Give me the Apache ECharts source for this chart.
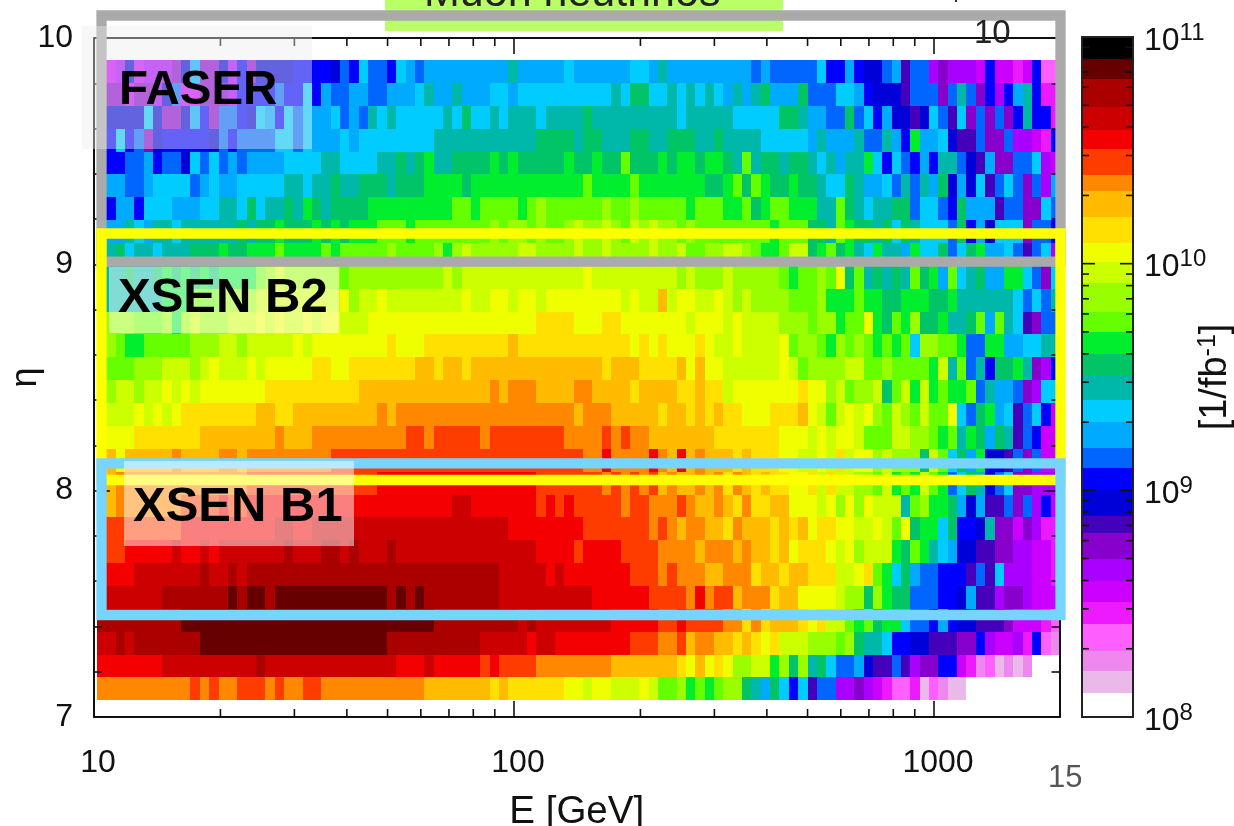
<!DOCTYPE html>
<html><head><meta charset="utf-8">
<style>html,body{margin:0;padding:0;background:#fff}#c{width:1234px;height:826px}</style>
<script src="https://cdn.jsdelivr.net/npm/echarts@6/dist/echarts.min.js"></script>
</head><body><div id="c"></div>
<script>
// Colour bands of the z scale, bottom to top
const bandColors=['#ffffff','#ebb9e9','#ee88ee','#ff5fff','#ee1aff','#cc00ff','#aa00ff','#8800cc','#4400bb','#0000d8','#0000ff','#0066ff','#00aaff','#00ccff','#00b8aa','#00c466','#00ee2e','#66ff00','#99ff00','#ccff00','#f0ff00','#ffe000','#ffbb00','#ff8800','#ff3c00','#f50000','#cc0000','#aa0000','#660000','#000000'];
const bandEdges=[1e8,1.27e8,1.6e8,1.95e8,2.57e8,3.2e8,4e8,5e8,6.5e8,7.7e8,1e9,1.25e9,1.54e9,2e9,2.5e9,3.2e9,4e9,5e9,6.1e9,8.2e9,1.02e10,1.23e10,1.6e10,2.1e10,2.46e10,3.2e10,3.9e10,4.9e10,6.5e10,8e10,1e11];
const xMinorTicks=[20,30,40,50,60,70,80,90,200,300,400,500,600,700,800,900];
const cbarMinorTicks=[2e8,3e8,4e8,5e8,6e8,7e8,8e8,9e8,2e9,3e9,4e9,5e9,6e9,7e9,8e9,9e9,2e10,3e10,4e10,5e10,6e10,7e10,8e10,9e10];
const cbarMajorTicks=[1e9,1e10];
const firstBinLogE=1.00714, binLogWidth=0.02226, firstRowEta=7.074, rowEtaHeight=0.101;
// Each eta row: pairs of band index, number of consecutive energy bins
const etaRow00=[23,10,24,1,23,1,24,1,23,2,24,3,23,1,24,1,23,2,24,2,23,11,22,7,21,1,22,1,21,6,20,2,19,1,20,2,19,3,20,1,19,1,17,2,18,1,16,1,17,1,16,1,17,1,18,2,15,1,14,1,12,1,15,1,13,1,10,1,13,1,8,1,11,2,6,2,7,1,6,1,5,1,4,1,3,2,4,1,1,1,3,1,2,1,1,2];
const etaRow01=[25,7,26,10,27,1,26,14,25,3,26,1,25,5,24,1,25,1,24,4,23,8,22,7,21,1,20,1,22,1,20,1,21,1,20,1,18,2,19,2,16,1,18,1,15,1,18,1,14,1,15,1,13,1,11,2,12,1,9,1,8,2,11,1,8,1,6,1,7,2,10,2,5,1,4,1,2,1,3,1,1,1,2,1,1,1,2,1];
const etaRow02=[26,2,27,1,26,1,27,7,28,20,27,10,26,5,25,1,26,2,25,8,24,3,23,2,24,1,22,1,23,2,22,2,21,1,22,1,21,1,20,1,21,1,19,3,18,3,17,1,18,1,15,1,14,2,13,1,10,2,9,2,8,3,7,2,10,1,6,1,5,2,6,1,4,1,10,1,3,1,2,1];
const etaRow03=[27,9,28,27,27,9,26,1,27,1,26,8,25,5,24,2,25,1,24,4,23,2,21,1,23,1,21,1,22,3,21,1,20,1,21,1,19,2,17,1,16,1,17,1,15,1,16,2,13,1,11,2,10,1,12,1,10,1,9,2,8,3,7,1,5,3,4,1,3,1];
const etaRow04=[26,7,27,7,28,1,27,1,28,2,27,1,28,12,27,1,28,1,27,1,28,1,27,8,26,10,25,6,24,4,23,1,25,1,23,1,24,2,22,1,23,3,21,1,22,2,20,4,19,1,18,2,15,1,18,1,16,1,15,2,11,3,10,2,9,1,12,1,8,2,6,1,7,2,6,1,5,3];
const etaRow05=[25,4,26,7,27,1,26,2,27,1,26,1,27,27,26,5,25,1,26,1,25,7,24,3,23,1,24,1,23,3,22,2,23,3,21,1,22,2,21,1,22,2,21,3,19,2,20,1,21,1,17,1,16,1,13,1,15,1,12,1,11,2,10,3,8,1,11,1,8,1,13,1,6,3,5,2,4,1];
const etaRow06=[24,3,25,5,26,1,25,2,26,1,25,1,26,7,27,1,26,3,27,2,26,1,27,1,26,3,27,1,26,15,25,4,24,1,25,4,24,4,23,4,22,1,23,3,22,1,23,1,22,2,21,1,22,1,20,1,21,3,20,1,19,1,20,1,18,1,19,3,16,1,15,1,17,1,16,1,14,1,13,1,12,1,9,2,8,2,7,2,6,2,5,2,4,1];
const etaRow07=[24,9,25,10,26,2,25,2,26,21,25,8,24,7,23,1,24,1,23,1,22,1,23,2,22,2,21,1,23,1,22,3,21,1,22,1,21,1,22,1,20,1,21,2,20,2,19,2,20,1,19,1,17,1,20,1,15,1,16,2,13,1,15,1,10,2,9,1,14,1,7,2,5,1,7,1,6,1,4,2];
const etaRow08=[22,2,23,7,24,4,25,1,24,2,25,22,26,2,25,7,24,1,25,1,24,1,25,1,24,5,23,1,24,2,23,3,24,1,23,1,22,2,23,1,22,1,21,1,23,1,21,2,22,2,20,3,19,1,20,1,18,1,20,1,18,1,20,1,19,3,14,1,17,1,18,1,16,2,15,1,12,1,9,1,12,1,8,2,11,1,7,1,11,1,6,1,10,1,5,1];
const etaRow09=[22,2,23,14,24,14,25,17,24,7,23,1,24,1,23,1,24,1,23,1,24,1,22,1,23,1,22,2,23,1,22,1,23,1,21,1,23,1,22,1,21,1,22,1,21,2,20,2,21,1,19,1,21,1,19,2,18,2,17,1,19,1,16,1,17,1,16,1,19,1,17,1,16,1,11,1,13,1,15,1,14,1,9,1,11,1,13,1,7,2,6,3];
const etaRow10=[22,2,20,1,22,5,23,1,22,4,23,2,22,1,23,9,24,27,23,2,25,1,23,4,25,1,23,1,22,1,25,1,22,1,23,1,22,3,21,1,22,1,21,3,20,2,19,2,20,1,19,1,21,1,19,1,20,2,18,1,19,1,18,3,15,1,19,1,17,1,13,1,15,1,12,1,16,1,9,2,8,1,11,1,7,1,11,1,5,2];
const etaRow11=[20,4,21,7,22,8,23,1,22,3,23,10,24,2,23,1,24,5,23,1,24,8,23,4,24,1,23,1,24,1,23,2,22,7,21,7,20,3,19,1,20,1,19,1,20,2,19,1,17,3,19,2,18,2,17,1,16,1,17,1,14,1,16,1,15,1,12,1,15,1,14,1,8,1,11,1,10,1,5,2];
const etaRow12=[19,4,20,1,19,1,20,1,19,1,20,1,21,8,22,2,21,2,22,9,23,1,22,1,23,19,22,1,23,3,22,5,21,1,22,2,21,1,22,1,21,1,22,1,21,2,20,3,21,3,22,1,20,1,19,1,17,1,19,1,20,1,19,1,20,1,18,1,17,1,19,1,18,1,17,1,19,1,17,2,20,1,13,1,11,1,15,1,16,1,12,1,13,1,8,1,11,1,13,1,10,1,5,1];
const etaRow13=[18,2,19,2,18,1,19,2,20,1,19,1,20,1,19,1,20,7,21,10,22,14,23,1,22,1,23,3,22,4,23,2,22,4,21,1,22,4,21,2,22,1,21,2,19,1,20,7,21,1,20,2,18,1,19,1,17,1,18,2,19,1,15,1,17,1,19,1,16,1,19,1,16,1,17,1,16,2,17,1,11,1,14,1,12,2,11,1,7,1,6,1,13,2];
const etaRow14=[17,4,18,3,19,3,18,1,19,1,20,1,19,3,20,1,19,1,20,5,21,2,20,2,21,7,22,2,21,1,22,2,21,1,22,14,21,1,22,3,21,4,22,1,20,1,22,1,20,2,19,6,20,1,19,1,17,1,18,4,19,2,17,2,18,1,17,4,16,1,19,1,14,1,17,1,11,1,14,1,10,1,15,2,16,1,14,1,7,1,6,1,10,1];
const etaRow15=[18,2,17,1,16,2,17,5,18,3,19,2,18,1,19,5,20,1,19,1,20,8,21,1,20,3,21,9,22,1,21,12,20,1,21,1,20,1,21,1,20,3,21,1,20,1,19,2,20,1,19,4,20,1,17,1,18,2,17,1,16,1,18,1,17,1,18,1,17,1,16,1,17,1,16,1,17,1,13,1,18,2,17,2,16,1,11,2,16,2,12,2,13,2,14,2];
const etaRow16=[18,4,17,3,18,1,16,1,18,1,19,1,18,3,19,3,20,1,19,1,20,1,19,2,20,1,19,1,20,2,19,3,20,18,21,4,20,3,21,2,20,7,19,1,20,3,19,1,20,1,19,4,18,3,17,1,18,2,16,1,17,2,20,1,16,1,15,1,17,1,16,1,18,1,15,2,16,1,14,2,15,1,17,1,12,1,17,1,14,1,13,1,8,1,7,1,11,2];
const etaRow17=[14,7,16,3,17,3,18,4,19,9,20,1,18,1,19,2,20,1,19,8,20,1,19,2,20,2,19,1,20,2,19,1,20,8,19,1,20,1,19,2,22,1,19,1,20,2,19,2,20,1,19,1,18,1,19,1,18,4,17,3,18,1,16,3,17,1,16,2,15,2,16,3,15,2,16,1,14,6,13,1,11,1,13,1,11,1,14,1];
const etaRow18=[14,3,15,1,14,2,15,1,16,1,15,1,16,1,15,1,16,1,15,1,16,4,17,1,18,1,19,1,18,6,17,1,18,10,19,1,18,1,19,13,20,1,19,9,18,1,19,1,18,3,19,1,18,5,17,1,16,1,17,2,18,1,17,1,20,1,15,1,17,1,14,1,15,1,14,1,15,1,14,1,17,1,15,1,16,1,12,1,17,1,13,1,14,1,15,1,12,2,16,2,13,1,11,1,7,1,13,1];
const etaRow19=[14,2,15,1,13,1,14,2,13,1,14,3,15,3,16,1,15,2,16,3,17,1,16,4,17,1,16,1,17,5,18,1,17,4,18,1,16,1,18,1,19,1,18,5,19,2,18,4,19,1,18,2,19,1,18,4,19,1,18,2,19,1,17,2,18,2,19,2,18,1,17,1,16,2,17,1,19,2,15,1,16,1,17,1,15,1,16,1,14,1,13,1,16,1,14,2,12,1,16,1,13,2,15,1,11,1,13,1,15,1,16,1,12,2,13,1,11,1,8,1,11,1,13,1,6,1];
const etaRow20=[12,3,14,1,13,1,12,1,14,2,13,1,14,6,15,1,14,1,15,2,16,1,15,3,16,1,15,1,16,1,15,1,16,3,17,3,16,1,17,8,18,1,17,1,18,2,17,1,18,1,17,2,18,1,19,1,18,2,19,1,18,1,17,1,19,1,18,1,19,1,18,2,17,1,18,1,17,8,16,1,17,3,15,2,14,1,17,1,16,1,15,2,14,1,15,1,13,1,15,1,14,1,13,3,11,1,15,1,10,1,12,1,9,1,13,3,7,1,11,2,10,1];
const etaRow21=[10,2,12,2,10,1,13,3,12,3,13,2,14,2,13,1,15,1,13,1,14,2,15,1,14,1,16,1,15,1,14,1,15,4,16,9,17,2,16,1,17,4,16,1,17,1,18,1,17,6,18,1,17,2,18,1,17,5,16,1,17,3,16,2,17,1,15,1,16,1,17,2,16,3,14,2,17,1,15,1,14,1,13,1,14,2,15,2,11,1,13,2,11,1,10,1,15,1,12,3,8,1,11,2,7,2,13,1,11,1];
const etaRow22=[12,3,11,2,12,1,13,4,11,1,12,1,13,1,12,2,13,5,14,2,13,1,14,2,15,1,14,2,15,3,14,1,15,3,16,4,15,1,16,12,17,1,16,4,17,1,16,7,15,2,16,1,17,1,15,1,17,1,16,1,15,2,16,1,15,2,14,1,13,2,15,1,14,1,12,2,13,1,11,1,14,1,11,1,14,1,12,1,15,1,9,1,12,1,9,1,13,1,8,1,11,1,13,1,11,1,7,1,11,1,6,1,12,1];
const etaRow23=[10,3,11,2,12,1,10,1,11,2,9,1,13,1,11,1,13,1,11,1,12,1,11,1,12,4,13,4,14,2,13,4,14,2,15,1,14,1,15,1,16,1,14,2,15,4,16,1,15,1,16,1,15,5,16,1,15,2,16,1,15,2,17,1,15,3,16,1,15,1,16,2,15,1,16,2,15,1,14,1,17,1,14,1,15,2,14,1,15,2,14,1,13,1,14,1,12,1,14,2,16,1,13,1,10,1,13,1,11,1,10,1,12,1,10,1,14,2,11,1,9,1,8,1,12,1,7,2,11,2,13,1,6,1,5,1];
const etaRow24=[10,2,13,1,10,1,11,1,7,1,9,1,10,5,9,1,11,1,10,1,11,4,13,2,11,1,13,1,12,3,13,1,12,1,13,8,14,11,15,4,14,1,15,2,14,3,15,2,14,2,15,3,14,2,15,1,14,4,13,5,12,1,14,1,12,3,14,1,11,2,14,1,12,1,10,1,16,1,12,2,13,1,9,1,8,2,11,1,7,2,11,1,6,2,5,1,4,1,10,1];
const etaRow25=[9,5,13,1,9,1,7,2,9,1,12,1,10,1,7,1,11,2,10,1,9,1,13,1,12,1,10,1,13,1,11,1,13,1,12,2,13,1,11,1,12,1,11,1,14,1,13,1,14,1,13,5,14,1,13,1,15,1,13,2,14,1,13,1,14,3,13,1,14,4,15,1,14,9,13,1,14,5,13,5,15,2,14,1,12,2,11,2,15,1,11,1,13,1,10,1,12,1,9,2,8,1,9,1,13,1,11,1,8,1,13,1,7,1,11,1,7,1,11,1,7,1,10,1,14,1,10,2,4,1];
const etaRow26=[7,3,5,1,7,2,6,1,9,1,11,1,5,2,7,3,6,1,10,4,11,1,10,2,13,1,10,1,12,1,11,2,12,2,11,2,12,3,13,1,14,1,12,2,14,1,12,3,13,2,12,1,13,10,14,1,13,1,15,2,13,2,14,1,13,1,14,1,13,1,14,1,13,1,12,1,14,1,12,1,14,1,15,1,12,3,15,1,11,3,13,2,12,1,10,1,9,3,8,1,11,3,7,1,11,1,14,1,11,1,7,1,10,1,6,1,10,1,12,1,14,1,10,1,4,2];
const etaRow27=[5,2,6,1,9,1,5,1,6,3,7,1,9,1,12,1,7,2,9,1,6,1,10,1,7,1,9,4,10,4,9,1,11,1,10,1,13,1,11,2,10,1,13,1,12,1,11,1,12,9,14,1,12,5,13,1,12,6,13,2,12,1,14,1,12,9,11,1,12,1,11,5,13,1,10,2,12,1,10,1,9,2,11,1,12,1,8,1,11,2,6,1,7,1,6,3,5,1,10,1,5,2,4,1,5,1,10,1,3,2];
const etaRows=[etaRow00,etaRow01,etaRow02,etaRow03,etaRow04,etaRow05,etaRow06,etaRow07,etaRow08,etaRow09,etaRow10,etaRow11,etaRow12,etaRow13,etaRow14,etaRow15,etaRow16,etaRow17,etaRow18,etaRow19,etaRow20,etaRow21,etaRow22,etaRow23,etaRow24,etaRow25,etaRow26,etaRow27];

const cells=[];
etaRows.forEach((row,r)=>{
  let k=0;
  for(let i=0;i<row.length;i+=2){
    const lvl=row[i],n=row[i+1];
    if(lvl>0){
      cells.push([Math.pow(10,firstBinLogE+k*binLogWidth),Math.pow(10,firstBinLogE+(k+n)*binLogWidth),firstRowEta+r*rowEtaHeight,firstRowEta+(r+1)*rowEtaHeight,lvl]);
    }
    k+=n;
  }
});
const bandData=bandColors.map((c,i)=>[0,1,bandEdges[i],bandEdges[i+1],i]);

function rectItem(params,api){
  const a=api.coord([api.value(0),api.value(2)]),b=api.coord([api.value(1),api.value(3)]);
  const x0=Math.round(a[0]),x1=Math.round(b[0]),y1=Math.round(a[1]),y0=Math.round(b[1]);
  return {type:'rect',shape:{x:x0,y:y0,width:x1-x0,height:y1-y0},style:{fill:bandColors[api.value(4)]}};
}
const tickStyle={stroke:'#111',lineWidth:1.6};
function xMinorItem(params,api){
  const v=api.value(0),b=api.coord([v,7]),t=api.coord([v,10]);
  return {type:'group',children:[
    {type:'line',shape:{x1:b[0],y1:b[1],x2:b[0],y2:b[1]-8},style:tickStyle},
    {type:'line',shape:{x1:t[0],y1:t[1],x2:t[0],y2:t[1]+8},style:tickStyle}]};
}
function cbarTickItem(len){
  return function(params,api){
    const l=api.coord([0,api.value(0)]),r=api.coord([1,api.value(0)]);
    return {type:'group',children:[
      {type:'line',shape:{x1:l[0],y1:l[1],x2:l[0]+len,y2:l[1]},style:tickStyle},
      {type:'line',shape:{x1:r[0],y1:r[1],x2:r[0]-len,y2:r[1]},style:tickStyle}]};
  };
}
const FONT='"Liberation Sans",Arial,sans-serif';
const axisLine={show:true,onZero:false,lineStyle:{color:'#111',width:2}};
const xMax=1990;
const xBase={type:'log',gridIndex:0,min:10,max:xMax,logBase:10,z:5,axisLine,splitLine:{show:false},minorTick:{show:false},
  axisTick:{show:true,inside:true,length:16,lineStyle:{color:'#111',width:1.6}}};
const yBase={type:'value',gridIndex:0,min:7,max:10,interval:1,z:5,axisLine,splitLine:{show:false},
  axisTick:{show:true,inside:true,length:16,lineStyle:{color:'#111',width:1.6}},
  minorTick:{show:true,splitNumber:5,length:8,lineStyle:{color:'#111',width:1.6}}};

const chart=echarts.init(document.getElementById('c'),null,{renderer:'canvas'});
chart.setOption({
  animation:false,
  backgroundColor:'#fff',
  textStyle:{fontFamily:FONT},
  grid:[{left:94,top:38,width:965.5,height:679,show:false,outerBoundsMode:'none'},{left:1082,top:37,width:51,height:680,show:false,outerBoundsMode:'none'}],
  xAxis:[
    Object.assign({},xBase,{position:'bottom',name:'E [GeV]',nameLocation:'middle',nameGap:76,
      nameTextStyle:{fontFamily:FONT,fontSize:38.5,color:'#111'},
      axisLabel:{show:true,showMaxLabel:false,margin:30,padding:[0,0,0,8],fontFamily:FONT,fontSize:32,color:'#111',formatter:v=>String(Math.round(v))}}),
    Object.assign({},xBase,{position:'top',axisLabel:{show:false}}),
    {type:'value',gridIndex:1,min:0,max:1,show:false}
  ],
  yAxis:[
    Object.assign({},yBase,{position:'left',name:'η',nameLocation:'middle',nameGap:50,nameRotate:90,nameMoveOverlap:false,
      nameTextStyle:{fontFamily:FONT,fontSize:36,color:'#111'},
      axisLabel:{show:true,margin:21,padding:[6,0,0,0],fontFamily:FONT,fontSize:32,color:'#111'}}),
    Object.assign({},yBase,{position:'right',axisLabel:{show:false}}),
    {type:'log',gridIndex:1,logBase:10,min:1e8,max:1e11,position:'right',z:5,
      axisLine:{show:false},axisTick:{show:false},splitLine:{show:false},minorTick:{show:false},
      name:'{a|[1/fb}{s|-1}{a|]}',nameLocation:'middle',nameGap:63,nameRotate:90,nameMoveOverlap:false,
      nameTextStyle:{rich:{a:{fontFamily:FONT,fontSize:38,color:'#111'},s:{fontFamily:FONT,fontSize:25,color:'#111',padding:[0,0,15,0]}}},
      axisLabel:{show:true,margin:11,padding:[8,0,0,0],
        formatter:v=>'{b|10}{s|'+Math.round(Math.log10(v))+'}',
        rich:{b:{fontFamily:FONT,fontSize:32,color:'#111'},s:{fontFamily:FONT,fontSize:24,color:'#111',padding:[0,0,16,0]}}}}
  ],
  series:[
    {type:'custom',name:'flux',xAxisIndex:0,yAxisIndex:0,clip:true,z:2,silent:true,coordinateSystem:'cartesian2d',renderItem:rectItem,encode:{x:[0,1],y:[2,3]},data:cells},
    {type:'custom',name:'xticks',xAxisIndex:0,yAxisIndex:0,z:6,silent:true,clip:false,renderItem:xMinorItem,encode:{x:0},data:xMinorTicks.map(v=>[v])},
    {type:'custom',name:'colourbar',xAxisIndex:2,yAxisIndex:2,z:2,silent:true,renderItem:rectItem,encode:{x:[0,1],y:[2,3]},data:bandData},
    {type:'custom',name:'cbarMinor',xAxisIndex:2,yAxisIndex:2,z:6,silent:true,renderItem:cbarTickItem(7),encode:{y:0},data:cbarMinorTicks.map(v=>[v])},
    {type:'custom',name:'cbarMajor',xAxisIndex:2,yAxisIndex:2,z:6,silent:true,renderItem:cbarTickItem(13),encode:{y:0},data:cbarMajorTicks.map(v=>[v])}
  ],
  graphic:{elements:[
    {type:'rect',z:1,shape:{x:385,y:-2,width:398,height:33},style:{fill:'#bbff66'}},
    {type:'text',z:2,x:424,y:16,style:{text:'Muon neutrinos',fontFamily:FONT,fontSize:43,fill:'#222',verticalAlign:'bottom'}},
    {type:'rect',z:20,shape:{x:101.5,y:15.5,width:959,height:246.2},style:{fill:'none',stroke:'#aaaaaa',lineWidth:10.3}},
    {type:'rect',z:21,shape:{x:101.5,y:233.5,width:959,height:246.5},style:{fill:'none',stroke:'#ffff00',lineWidth:10.3}},
    {type:'rect',z:22,shape:{x:101.5,y:463.3,width:959,height:151.7},style:{fill:'none',stroke:'#77d4ff',lineWidth:10.3}},
    {type:'rect',z:23,shape:{x:82,y:26,width:230,height:123},style:{fill:'rgba(235,235,235,0.42)'}},
    {type:'rect',z:23,shape:{x:109,y:267,width:230,height:66},style:{fill:'rgba(255,255,255,0.5)'}},
    {type:'rect',z:23,shape:{x:124,y:461,width:230,height:85},style:{fill:'rgba(255,255,255,0.5)'}},
    {type:'text',z:24,x:119,y:91,style:{text:'FASER',fontFamily:FONT,fontWeight:'bold',fontSize:47.5,fill:'#000',verticalAlign:'middle'}},
    {type:'text',z:24,x:118,y:298.5,style:{text:'XSEN B2',fontFamily:FONT,fontWeight:'bold',fontSize:49,fill:'#000',verticalAlign:'middle'}},
    {type:'text',z:24,x:133,y:507.5,style:{text:'XSEN B1',fontFamily:FONT,fontWeight:'bold',fontSize:49,fill:'#000',verticalAlign:'middle'}},
    {type:'text',z:24,x:974,y:34,style:{text:'10',fontFamily:FONT,fontSize:33,fill:'#222',verticalAlign:'middle'}},
    {type:'text',z:24,x:1048,y:778,style:{text:'15',fontFamily:FONT,fontSize:31,fill:'#555',verticalAlign:'middle'}},
    {type:'rect',z:24,shape:{x:955,y:0,width:2,height:2},style:{fill:'#333'}},
    {type:'rect',z:7,shape:{x:1082,y:37,width:51,height:680},style:{fill:'none',stroke:'#222',lineWidth:2}}
  ]}
});
</script></body></html>
